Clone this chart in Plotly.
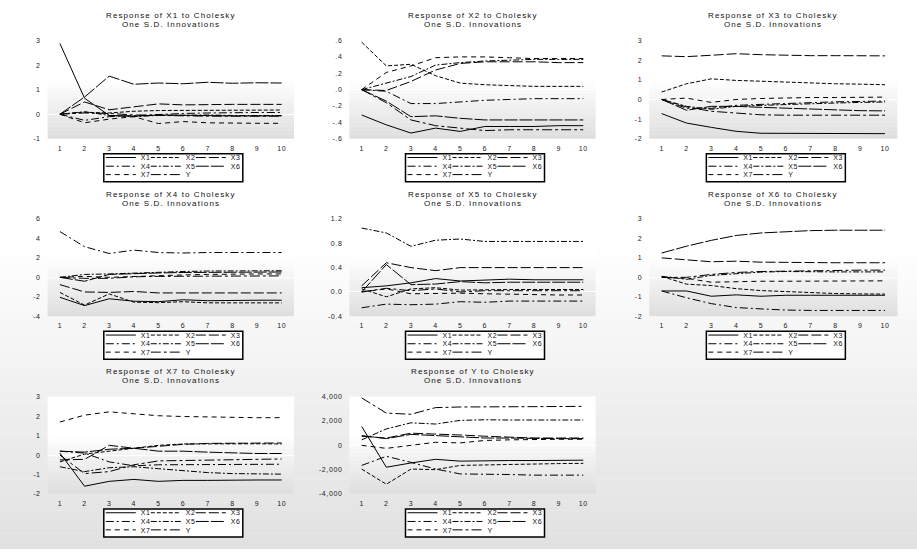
import plotly.graph_objects as go

periods = list(range(1, 11))
shocks = ["X1", "X2", "X3", "X4", "X5", "X6", "X7", "Y"]
responses = ["X1", "X2", "X3", "X4", "X5", "X6", "X7", "Y"]

# responses of each variable, one list per shock in order X1..X7, Y
resp_x1 = [
    [2.88, 0.65, -0.05, -0.08, -0.03, -0.05, -0.07, -0.07, -0.07, -0.07],
    [0, 0.08, 0.05, 0.12, 0.15, 0.15, 0.17, 0.17, 0.17, 0.17],
    [0, 0.5, 0.18, 0.3, 0.42, 0.38, 0.4, 0.4, 0.4, 0.4],
    [0, -0.25, -0.1, -0.05, 0.0, 0.03, 0.05, 0.07, 0.07, 0.07],
    [0, 0.1, -0.05, -0.1, -0.05, -0.03, -0.03, -0.05, -0.05, -0.05],
    [0, 0.7, 1.55, 1.22, 1.27, 1.24, 1.3, 1.26, 1.28, 1.27],
    [0, -0.35, -0.2, -0.1, -0.38, -0.3, -0.35, -0.37, -0.37, -0.37],
    [0, 0.05, 0.03, -0.03, -0.05, -0.08, -0.08, -0.08, -0.08, -0.08],
]
resp_x2 = [
    [-0.31, -0.43, -0.53, -0.47, -0.51, -0.45, -0.45, -0.45, -0.44, -0.44],
    [0.58, 0.29, 0.31, 0.17, 0.08, 0.06, 0.05, 0.04, 0.04, 0.04],
    [0, -0.01, 0.1, 0.24, 0.32, 0.34, 0.34, 0.34, 0.33, 0.33],
    [0, -0.02, -0.17, -0.17, -0.15, -0.13, -0.12, -0.11, -0.11, -0.11],
    [0, 0.08, 0.16, 0.3, 0.33, 0.35, 0.36, 0.37, 0.37, 0.37],
    [0, -0.14, -0.33, -0.32, -0.35, -0.37, -0.37, -0.37, -0.37, -0.37],
    [0, 0.21, 0.29, 0.39, 0.4, 0.4, 0.39, 0.38, 0.38, 0.38],
    [0, -0.16, -0.37, -0.44, -0.47, -0.5, -0.49, -0.49, -0.49, -0.49],
]
resp_x3 = [
    [-0.72, -1.2, -1.42, -1.62, -1.72, -1.73, -1.74, -1.74, -1.74, -1.74],
    [0.38, 0.8, 1.05, 0.97, 0.93, 0.88, 0.83, 0.8, 0.78, 0.75],
    [2.22, 2.18, 2.25, 2.33, 2.28, 2.25, 2.23, 2.23, 2.22, 2.22],
    [0, -0.45, -0.45, -0.3, -0.25, -0.2, -0.15, -0.12, -0.1, -0.08],
    [0, -0.35, -0.5, -0.35, -0.3, -0.25, -0.2, -0.18, -0.15, -0.13],
    [0, -0.55, -0.35, -0.35, -0.4, -0.45, -0.5, -0.55, -0.57, -0.58],
    [0, 0.07, -0.15, 0.0, 0.05, 0.08, 0.1, 0.1, 0.12, 0.12],
    [0, -0.38, -0.6, -0.7, -0.78, -0.8, -0.8, -0.8, -0.8, -0.8],
]
resp_x4 = [
    [-2.05, -2.9, -2.2, -2.45, -2.5, -2.3, -2.4, -2.35, -2.35, -2.35],
    [-1.55, -2.85, -1.7, -2.55, -2.6, -2.5, -2.62, -2.62, -2.62, -2.62],
    [-0.75, -1.5, -1.55, -1.45, -1.6, -1.6, -1.6, -1.6, -1.6, -1.6],
    [4.7, 3.15, 2.45, 2.8, 2.55, 2.5, 2.55, 2.55, 2.55, 2.55],
    [0, 0.3, 0.35, 0.45, 0.5, 0.6, 0.65, 0.68, 0.68, 0.68],
    [0, -0.4, 0.3, 0.4, 0.45, 0.5, 0.52, 0.55, 0.55, 0.55],
    [0, 0.1, 0.0, 0.1, 0.2, 0.25, 0.3, 0.35, 0.35, 0.35],
    [0, -0.1, -0.1, 0.05, 0.1, 0.12, 0.15, 0.15, 0.15, 0.15],
]
resp_x5 = [
    [0.07, 0.10, 0.15, 0.22, 0.18, 0.20, 0.21, 0.20, 0.20, 0.20],
    [0.05, -0.08, 0.05, 0.07, 0.03, 0.04, 0.04, 0.04, 0.04, 0.04],
    [0.1, 0.48, 0.40, 0.35, 0.40, 0.40, 0.40, 0.40, 0.40, 0.40],
    [-0.26, -0.20, -0.21, -0.20, -0.16, -0.17, -0.15, -0.15, -0.15, -0.15],
    [1.05, 0.97, 0.75, 0.85, 0.87, 0.83, 0.83, 0.83, 0.83, 0.83],
    [0.0, 0.45, 0.12, 0.13, 0.17, 0.15, 0.16, 0.16, 0.16, 0.16],
    [0.0, 0.05, -0.03, -0.02, -0.02, -0.03, -0.04, -0.05, -0.05, -0.05],
    [0.0, 0.06, 0.02, 0.05, 0.0, 0.02, 0.02, 0.02, 0.02, 0.02],
]
resp_x6 = [
    [-0.7, -0.7, -0.97, -0.9, -0.97, -0.92, -0.92, -0.92, -0.92, -0.92],
    [0.05, -0.35, -0.42, -0.58, -0.68, -0.74, -0.8, -0.83, -0.85, -0.86],
    [1.0, 0.9, 0.8, 0.83, 0.78, 0.77, 0.75, 0.75, 0.75, 0.75],
    [-0.7, -1.05, -1.35, -1.55, -1.62, -1.68, -1.7, -1.7, -1.7, -1.7],
    [0.05, -0.1, 0.1, 0.2, 0.27, 0.3, 0.28, 0.28, 0.28, 0.28],
    [1.25, 1.6, 1.9, 2.15, 2.28, 2.35, 2.4, 2.42, 2.42, 2.42],
    [0.0, -0.05, -0.25, -0.22, -0.2, -0.2, -0.2, -0.2, -0.2, -0.18],
    [0.0, 0.0, 0.15, 0.25, 0.3, 0.32, 0.35, 0.35, 0.37, 0.37],
]
resp_x7 = [
    [0.1, -1.6, -1.35, -1.25, -1.35, -1.3, -1.3, -1.28, -1.28, -1.28],
    [-0.35, 0.05, 0.2, 0.35, 0.5, 0.57, 0.58, 0.58, 0.58, 0.57],
    [-0.25, -0.22, 0.5, 0.35, 0.45, 0.55, 0.6, 0.6, 0.62, 0.62],
    [0.2, 0.1, -0.35, -0.55, -0.5, -0.5, -0.48, -0.47, -0.47, -0.47],
    [-0.6, -0.85, -0.65, -0.6, -0.7, -0.8, -0.9, -0.95, -0.98, -0.98],
    [0.2, 0.15, 0.3, 0.35, 0.2, 0.2, 0.15, 0.1, 0.08, 0.08],
    [1.7, 2.05, 2.22, 2.12, 2.02, 1.98, 1.95, 1.93, 1.92, 1.92],
    [0.0, -0.95, -0.85, -0.5, -0.3, -0.28, -0.25, -0.22, -0.2, -0.2],
]
resp_y = [
    [1550, -1800, -1450, -1150, -1300, -1250, -1250, -1250, -1230, -1220],
    [-1950, -3200, -1950, -2000, -1650, -1600, -1550, -1500, -1500, -1480],
    [750, 600, 1000, 950, 850, 750, 650, 600, 600, 600],
    [-1650, -900, -1400, -1950, -2350, -2350, -2400, -2450, -2450, -2450],
    [450, 1350, 1850, 1750, 2050, 2100, 2080, 2080, 2080, 2080],
    [800, 550, 900, 800, 650, 600, 600, 550, 550, 550],
    [0, -250, 0, 250, 200, 400, 450, 500, 500, 500],
    [3900, 2650, 2550, 3100, 3150, 3150, 3200, 3200, 3200, 3200],
]

# y-axis ticks per panel
ticks_x1 = [-1, 0, 1, 2, 3]
labels_x1 = ["-1", "0", "1", "2", "3"]
ticks_x2 = [-0.6, -0.4, -0.2, 0, 0.2, 0.4, 0.6]
labels_x2 = ["-.6", "-.4", "-.2", ".0", ".2", ".4", ".6"]
ticks_x3 = [-2, -1, 0, 1, 2, 3]
labels_x3 = ["-2", "-1", "0", "1", "2", "3"]
ticks_x4 = [-4, -2, 0, 2, 4, 6]
labels_x4 = ["-4", "-2", "0", "2", "4", "6"]
ticks_x5 = [-0.4, 0.0, 0.4, 0.8, 1.2]
labels_x5 = ["-0.4", "0.0", "0.4", "0.8", "1.2"]
ticks_x6 = [-2, -1, 0, 1, 2, 3]
labels_x6 = ["-2", "-1", "0", "1", "2", "3"]
ticks_x7 = [-2, -1, 0, 1, 2, 3]
labels_x7 = ["-2", "-1", "0", "1", "2", "3"]
ticks_y = [-4000, -2000, 0, 2000, 4000]
labels_y = ["-4,000", "-2,000", "0", "2,000", "4,000"]

panels = [
    ("X1", resp_x1, ticks_x1, labels_x1),
    ("X2", resp_x2, ticks_x2, labels_x2),
    ("X3", resp_x3, ticks_x3, labels_x3),
    ("X4", resp_x4, ticks_x4, labels_x4),
    ("X5", resp_x5, ticks_x5, labels_x5),
    ("X6", resp_x6, ticks_x6, labels_x6),
    ("X7", resp_x7, ticks_x7, labels_x7),
    ("Y", resp_y, ticks_y, labels_y),
]

# ---- styling / layout geometry (pixels) ----
W, H = 917, 552
col_left = [47.6, 349.4, 649.3]
col_right = [294.0, 595.6, 897.4]
row_top = [37.0, 217.7, 397.7]
row_bot = [136.5, 316.3, 496.3]

dashes = ["solid", "4px,2px", "10px,3px", "8px,3px,2px,3px",
          "6px,2px,2px,2px", "13px,2px", "5px,4px", "10px,3px,3px,3px"]
# legend grid position (row, column) of each shock
legend_pos = [(0, 0), (0, 1), (0, 2), (1, 0), (1, 1), (1, 2), (2, 0), (2, 1)]

FONT = "Liberation Sans, Arial, sans-serif"

def px_x(p):
    return p / W

def px_y(p):
    return 1 - p / H

def spaced(s, sp):
    return f'<span style="letter-spacing:{sp}px">{s}</span>'

fig = go.Figure()
layout = dict(
    width=W, height=H,
    margin=dict(l=0, r=0, t=0, b=0),
    paper_bgcolor="white",
    plot_bgcolor="rgba(0,0,0,0)",
    font=dict(family=FONT, size=7, color="#222"),
    showlegend=True,
)
shapes = []
annotations = []

# page background gradient
n_page = 40
g_start = 240.0
for i in range(n_page):
    y0 = g_start + (H - g_start) * i / n_page
    y1 = g_start + (H - g_start) * (i + 1) / n_page
    t = (i + 0.5) / n_page
    c = int(round(255 - 30 * t))
    shapes.append(dict(type="rect", xref="paper", yref="paper", layer="below",
                       x0=0, x1=1, y0=px_y(y1), y1=px_y(y0) + 0.0005,
                       line=dict(width=0), fillcolor=f"rgb({c},{c},{c})"))

legend_idx = 0
for k, (name, series, tv, tt) in enumerate(panels):
    r, c = divmod(k, 3)
    xa = "xaxis" + ("" if k == 0 else str(k + 1))
    ya = "yaxis" + ("" if k == 0 else str(k + 1))
    xid = "x" + ("" if k == 0 else str(k + 1))
    yid = "y" + ("" if k == 0 else str(k + 1))
    L, R, T, B = col_left[c], col_right[c], row_top[r], row_bot[r]
    layout[xa] = dict(domain=[px_x(L), px_x(R)], anchor=yid, range=[0.5, 10.5],
                      tickvals=periods, ticktext=[spaced(str(p), 0.6) for p in periods],
                      showgrid=False, zeroline=False, showline=False, ticks="",
                      ticklabelstandoff=4,
                      tickfont=dict(size=7, color="#222", family=FONT))
    layout[ya] = dict(domain=[px_y(B), px_y(T)], anchor=xid, range=[tv[0], tv[-1]],
                      tickvals=tv, ticktext=[spaced(s, 0.6) for s in tt], showgrid=False,
                      zeroline=True, zerolinecolor="white", zerolinewidth=1,
                      showline=False, ticks="", ticklabelstandoff=6,
                      tickfont=dict(size=7, color="#222", family=FONT))
    # plot-area gradient
    nb = 24
    for i in range(nb):
        t0 = i / nb
        t1 = (i + 1) / nb
        tm = (i + 0.5) / nb
        if tm < 0.4:
            cval = 255
        else:
            cval = int(round(255 - 33 * (tm - 0.4) / 0.6))
        shapes.append(dict(type="rect", xref="paper", yref="paper", layer="below",
                           x0=px_x(L), x1=px_x(R),
                           y0=px_y(T + (B - T) * t1), y1=px_y(T + (B - T) * t0) + 0.0004,
                           line=dict(width=0), fillcolor=f"rgb({cval},{cval},{cval})"))
    # titles
    cx = (L + R) / 2
    annotations.append(dict(text=spaced(f"Response of {name} to Cholesky", 1.1),
                            xref="paper", yref="paper",
                            x=px_x(cx), y=px_y(T - 25), showarrow=False,
                            xanchor="center", yanchor="middle",
                            font=dict(size=8, family=FONT, color="#111")))
    annotations.append(dict(text=spaced("One S.D. Innovations", 1.1),
                            xref="paper", yref="paper",
                            x=px_x(cx), y=px_y(T - 16), showarrow=False,
                            xanchor="center", yanchor="middle",
                            font=dict(size=8, family=FONT, color="#111")))
    # legend box
    shapes.append(dict(type="rect", xref="paper", yref="paper", layer="below",
                       x0=px_x(cx - 67), x1=px_x(cx + 72),
                       y0=px_y(B + 43.5), y1=px_y(B + 15.2),
                       line=dict(width=1.5, color="black"), fillcolor="white"))
    # one small legend per entry, laid out on a 3-column grid
    row_y = [B + 19.0, B + 27.8, B + 36.3]
    for si in range(len(shocks)):
        legend_idx += 1
        lname = "legend" + ("" if legend_idx == 1 else str(legend_idx))
        lr, lc = legend_pos[si]
        layout[lname] = dict(orientation="h", x=px_x(cx - 70 + 45 * lc), y=px_y(row_y[lr]),
                             xanchor="left", yanchor="middle",
                             bgcolor="rgba(0,0,0,0)", borderwidth=0,
                             itemwidth=30,
                             font=dict(size=7, family=FONT, color="#111"))
        fig.add_trace(go.Scatter(
            x=periods, y=series[si], mode="lines", name=spaced(shocks[si], 0.6),
            line=dict(color="black", width=1, dash=dashes[si]),
            xaxis=xid, yaxis=yid, legend=lname, showlegend=True,
            hoverinfo="skip"))

layout["shapes"] = shapes
layout["annotations"] = annotations
fig.update_layout(**layout)
fig.write_html("out.html", config={"displayModeBar": False})

# remove the browser's default page margin so the figure sits at (0, 0)
with open("out.html", "r", encoding="utf-8") as f:
    html = f.read()
html = html.replace("<body>", '<body style="margin:0;padding:0;">', 1)
with open("out.html", "w", encoding="utf-8") as f:
    f.write(html)
